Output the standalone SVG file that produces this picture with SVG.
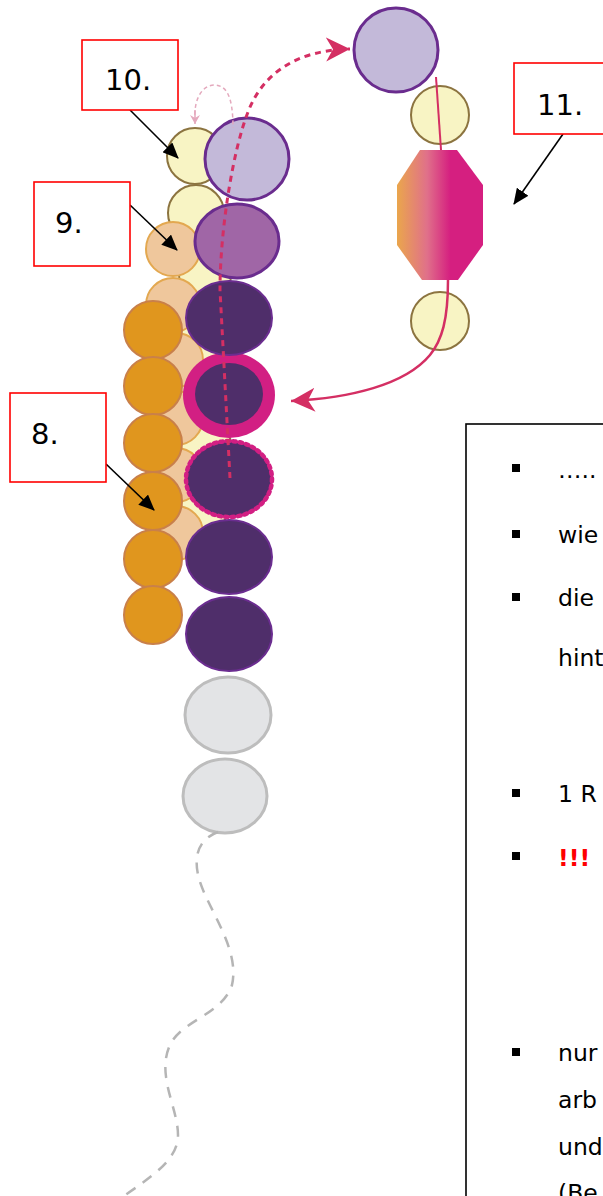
<svg xmlns="http://www.w3.org/2000/svg" width="603" height="1196" viewBox="0 0 603 1196">
<defs>
<style>
.lbl{fill:#fff;stroke:#ff0000;stroke-width:1.6}
.lt{font-family:"DejaVu Sans","Verdana",sans-serif;font-size:29px;fill:#000}
.tx{font-family:"DejaVu Sans","Verdana",sans-serif;font-size:23.5px;fill:#000}
.yel{fill:#f8f4c4;stroke:#8c7440;stroke-width:2}
.pea{fill:#efc79c;stroke:#e3a850;stroke-width:2}
.ora{fill:#e0961e;stroke:#c9804a;stroke-width:2}
.lav{fill:#c3b9d9;stroke:#6a2c8e;stroke-width:3}
.mpu{fill:#a066a6;stroke:#6a2c8e;stroke-width:3}
.dpu{fill:#4f2e6a;stroke:#6b2d90;stroke-width:2}
.gry{fill:#e3e4e6;stroke:#bdbdbd;stroke-width:3}
.blk{stroke:#000;stroke-width:1.6;fill:none}
.bul{fill:#000}
</style>
<linearGradient id="oct" x1="0" y1="0" x2="1" y2="0">
<stop offset="0" stop-color="#eaa64c"/>
<stop offset="0.35" stop-color="#e0708a"/>
<stop offset="0.62" stop-color="#d51f80"/>
<stop offset="1" stop-color="#d51f80"/>
</linearGradient>
<marker id="ab" markerUnits="userSpaceOnUse" markerWidth="16" markerHeight="14" refX="15" refY="7" orient="auto">
<path d="M0,0 L16,7 L0,14 z" fill="#000"/>
</marker>
<marker id="ap" markerUnits="userSpaceOnUse" markerWidth="26" markerHeight="26" refX="24" refY="12" orient="auto">
<path d="M0,0 L24,12 L0,24 L7,12 z" fill="#d42f63"/>
</marker>
<marker id="al" markerUnits="userSpaceOnUse" markerWidth="10" markerHeight="10" refX="9" refY="5" orient="auto">
<path d="M0,0 L9,5 L0,10 L3,5 z" fill="#e4a9bd"/>
</marker>
</defs>
<rect width="603" height="1196" fill="#fff"/>

<g id="beads-yellow">
<circle class="yel" cx="205" cy="275" r="26"/>
<circle class="yel" cx="205" cy="335" r="26"/>
<circle class="yel" cx="205" cy="392" r="26"/>
<circle class="yel" cx="205" cy="445" r="26"/>
<circle class="yel" cx="205" cy="503" r="26"/>
<circle class="yel" cx="196" cy="213" r="28"/>
<circle id="bead10" class="yel" cx="195" cy="156" r="28"/>
</g>
<g id="beads-peach">
<circle class="pea" cx="176" cy="533" r="27"/>
<circle class="pea" cx="176" cy="475" r="27"/>
<circle class="pea" cx="176" cy="418" r="27"/>
<circle class="pea" cx="176" cy="360" r="27"/>
<circle class="pea" cx="173" cy="305" r="27"/>
<circle id="bead9" class="pea" cx="173" cy="249" r="27"/>
</g>
<g id="beads-orange">
<circle class="ora" cx="153" cy="330" r="29"/>
<circle class="ora" cx="153" cy="386" r="29"/>
<circle class="ora" cx="153" cy="443" r="29"/>
<circle id="bead8" class="ora" cx="153" cy="501" r="29"/>
<circle class="ora" cx="153" cy="559" r="29"/>
<circle class="ora" cx="153" cy="615" r="29"/>
</g>
<g id="beads-purple">
<ellipse class="gry" cx="225" cy="796" rx="42" ry="37"/>
<ellipse class="gry" cx="228" cy="715" rx="43" ry="38"/>
<ellipse class="dpu" cx="229" cy="634" rx="43" ry="37"/>
<ellipse class="dpu" cx="229" cy="557" rx="43" ry="37"/>
<ellipse cx="229" cy="479" rx="43" ry="38" fill="#4f2e6a" stroke="#d21f83" stroke-width="4.5" stroke-dasharray="2.5 4" stroke-linecap="round"/>
<ellipse cx="229" cy="395" rx="46" ry="43" fill="#d21f83"/>
<ellipse cx="229" cy="394" rx="34" ry="31" fill="#4f2e6a"/>
<ellipse class="dpu" cx="229" cy="318" rx="43" ry="37"/>
<ellipse class="mpu" cx="237" cy="241" rx="42" ry="37"/>
<ellipse class="lav" cx="247" cy="159" rx="42" ry="41"/>
</g>
<g id="strand-top">
<circle class="lav" cx="396" cy="50" r="42"/>
<circle class="yel" cx="440" cy="115" r="29"/>
<polygon id="octagon" points="420,150 457,150 483,185 483,245 458,280 422,280 397,245 397,185" fill="url(#oct)"/>
<circle class="yel" cx="440" cy="321" r="29"/>
</g>

<g id="connectors" fill="none">
<path d="M195,122 C193,95 205,85 214,85 C226,85 233,95 233,128" stroke="#e4a9bd" stroke-width="1.5" stroke-dasharray="4 3"/>
<path d="M195,110 L195,124" stroke="#e4a9bd" stroke-width="1.5" marker-end="url(#al)"/>
<path d="M230,478 L220,290 C220,230 233,150 248,112 C262,75 295,50 350,49" stroke="#d42f63" stroke-width="3" stroke-dasharray="6 5" marker-end="url(#ap)"/>
<path d="M436,77 L441,150" stroke="#d42f63" stroke-width="2"/>
<path d="M448,280 C448,320 442,340 430,355 C405,385 350,398 291,401" stroke="#d42f63" stroke-width="2.5" marker-end="url(#ap)"/>
<path d="M218,832 C196,840 193,860 200,882 C210,912 240,950 232,985 C222,1015 182,1020 170,1045 C156,1075 178,1108 178,1135 C178,1160 152,1176 124,1196" stroke="#b5b5b5" stroke-width="2.5" stroke-dasharray="11 9"/>
<line class="blk" x1="130" y1="110" x2="178" y2="158" marker-end="url(#ab)"/>
<line class="blk" x1="130" y1="205" x2="177" y2="250" marker-end="url(#ab)"/>
<line class="blk" x1="106" y1="464" x2="154" y2="510" marker-end="url(#ab)"/>
<line class="blk" x1="563" y1="134" x2="514" y2="204" marker-end="url(#ab)"/>
</g>

<g id="label10"><rect class="lbl" x="82" y="40" width="96" height="70"/><text class="lt" x="105" y="90">10.</text></g>
<g id="label9"><rect class="lbl" x="34" y="182" width="96" height="84"/><text class="lt" x="55" y="233">9.</text></g>
<g id="label8"><rect class="lbl" x="10" y="393" width="96" height="89"/><text class="lt" x="31" y="444">8.</text></g>
<g id="label11"><rect class="lbl" x="514" y="63" width="100" height="71"/><text class="lt" x="537" y="115">11.</text></g>

<g id="textbox">
<rect x="466" y="424" width="150" height="790" fill="#fff" stroke="#000" stroke-width="1.6"/>
<rect class="bul" x="512" y="464" width="8" height="8"/>
<text class="tx" x="558" y="478">…..</text>
<rect class="bul" x="512" y="530" width="8" height="8"/>
<text class="tx" x="558" y="543">wie</text>
<rect class="bul" x="512" y="593" width="8" height="8"/>
<text class="tx" x="558" y="606">die</text>
<text class="tx" x="558" y="666">hint</text>
<rect class="bul" x="512" y="789" width="8" height="8"/>
<text class="tx" x="558" y="802">1 R</text>
<rect class="bul" x="512" y="852" width="8" height="8"/>
<text class="tx" x="558" y="866" font-weight="bold" style="fill:#ff0000">!!!</text>
<rect class="bul" x="512" y="1048" width="8" height="8"/>
<text class="tx" x="558" y="1061">nur</text>
<text class="tx" x="558" y="1108">arb</text>
<text class="tx" x="558" y="1155">und</text>
<text class="tx" x="558" y="1201">(Be</text>
</g>
</svg>
